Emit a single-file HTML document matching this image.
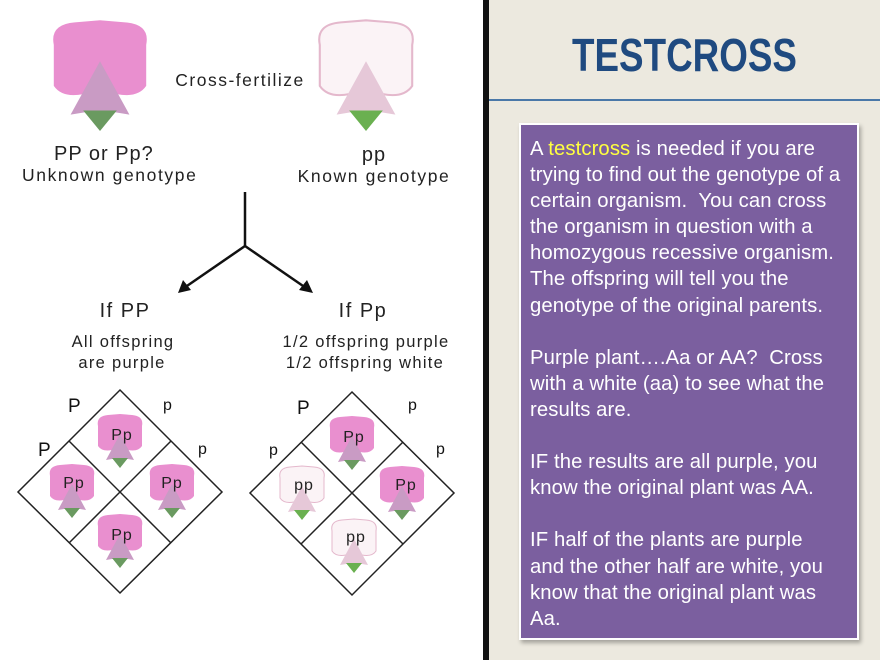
<!DOCTYPE html>
<html><head><style>
html,body{margin:0;padding:0}
body{width:880px;height:660px;position:relative;overflow:hidden;background:#fff;font-family:"Liberation Sans",sans-serif}
#right{position:absolute;left:489px;top:0;width:391px;height:660px;background:#ece9df}
#div{position:absolute;left:483px;top:0;width:6px;height:660px;background:#111}
#title{position:absolute;left:489px;width:391px;top:28px;text-align:center;font:bold 46px "Liberation Sans Narrow","Liberation Sans",sans-serif;color:#1f4a80;transform:scaleX(0.8)}
#line{position:absolute;left:489px;top:99px;width:391px;height:2px;background:#4a78a8}
#box{position:absolute;left:519px;top:123px;width:340px;height:517px;background:#7b5f9f;border:2px solid #fff;box-shadow:2px 3px 4px rgba(0,0,0,.3);color:#fff;font-size:20.3px;line-height:26.1px;padding:11px 0 0 9px;box-sizing:border-box;white-space:nowrap;letter-spacing:0.1px}
.y{color:#ffff40}
</style></head><body>
<svg width="483" height="660" style="position:absolute;left:0;top:0" font-family="Liberation Sans, sans-serif">
<defs>
<g id="pf">
<path d="M-22,-22 Q-24,-32 -12,-33 L0,-34 L12,-33 Q24,-32 22,-22 L22,-2 Q18,4 8,2 L-8,2 Q-18,4 -22,-2Z" fill="#e98fcf"/>
<path d="M0,-14 L-14,12 L-2,10 L0,18 L2,10 L14,12Z" fill="#c99bc4"/>
<path d="M-8,10 L0,20 L8,10" fill="#6a9a60"/>
</g>
<g id="wf">
<path d="M-22,-22 Q-24,-32 -12,-33 L0,-34 L12,-33 Q24,-32 22,-22 L22,-2 Q18,4 8,2 L-8,2 Q-18,4 -22,-2Z" fill="#fbf3f6" stroke="#e4b8cc" stroke-width="1"/>
<path d="M0,-14 L-14,12 L-2,10 L0,18 L2,10 L14,12Z" fill="#e6c8d8"/>
<path d="M-8,10 L0,20 L8,10" fill="#6ab050"/>
</g>
</defs>
<g transform="translate(100,90) scale(2.1,2.05)"><use href="#pf"/></g>
<g transform="translate(366,90) scale(2.1,2.05)"><use href="#wf"/></g>
<text x="240" y="86" font-size="17.5" text-anchor="middle" letter-spacing="1.5" fill="#222">Cross-fertilize</text>
<text x="54" y="160" font-size="20" fill="#222" letter-spacing="1">PP or Pp?</text>
<text x="22" y="181" font-size="17.5" fill="#222" letter-spacing="1.6">Unknown genotype</text>
<text x="374" y="161" font-size="20" fill="#222" text-anchor="middle" letter-spacing="1">pp</text>
<text x="374" y="182" font-size="17.5" fill="#222" text-anchor="middle" letter-spacing="1.6">Known genotype</text>
<g stroke="#111" stroke-width="2.5" fill="none">
<line x1="245" y1="192" x2="245" y2="246"/>
<line x1="245" y1="246" x2="184" y2="288"/>
<line x1="245" y1="246" x2="306" y2="288"/>
</g>
<path d="M178,293 L183,280 L191,290Z" fill="#111"/>
<path d="M313,293 L299,290 L307,280Z" fill="#111"/>
<text x="125" y="317" font-size="20" text-anchor="middle" fill="#222" letter-spacing="1.5">If PP</text>
<text x="123" y="347" font-size="16.5" text-anchor="middle" fill="#222" letter-spacing="1.3">All offspring</text>
<text x="122" y="368" font-size="16.5" text-anchor="middle" fill="#222" letter-spacing="1.3">are purple</text>
<text x="363" y="317" font-size="20" text-anchor="middle" fill="#222" letter-spacing="1.5">If Pp</text>
<text x="366" y="347" font-size="16.5" text-anchor="middle" fill="#222" letter-spacing="1.3">1/2 offspring purple</text>
<text x="365" y="368" font-size="16.5" text-anchor="middle" fill="#222" letter-spacing="1.3">1/2 offspring white</text>
<g stroke="#222" stroke-width="1.5" fill="none">
<path d="M120,390 L222,492 L120,593 L18,492Z"/>
<line x1="69" y1="441" x2="171" y2="543"/>
<line x1="171" y1="441" x2="69" y2="543"/>
<path d="M352,392 L454,493 L352,595 L250,493Z"/>
<line x1="301" y1="442" x2="403" y2="544"/>
<line x1="403" y1="442" x2="301" y2="544"/>
</g>
<g font-size="19" fill="#111">
<text x="68" y="412">P</text><text x="163" y="410" font-size="16">p</text>
<text x="38" y="456">P</text><text x="198" y="454" font-size="16">p</text>
<text x="297" y="414">P</text><text x="408" y="410" font-size="16">p</text>
<text x="269" y="455" font-size="16">p</text><text x="436" y="454" font-size="16">p</text>
</g>
<g transform="translate(120,448)"><use href="#pf"/></g>
<g transform="translate(72,498)"><use href="#pf"/></g>
<g transform="translate(172,498)"><use href="#pf"/></g>
<g transform="translate(120,548)"><use href="#pf"/></g>
<g transform="translate(352,450)"><use href="#pf"/></g>
<g transform="translate(302,500)"><use href="#wf"/></g>
<g transform="translate(402,500)"><use href="#pf"/></g>
<g transform="translate(354,553)"><use href="#wf"/></g>
<g font-size="16" fill="#222" text-anchor="middle" letter-spacing="1">
<text x="122" y="440">Pp</text><text x="74" y="488">Pp</text><text x="172" y="488">Pp</text><text x="122" y="540">Pp</text>
<text x="354" y="442">Pp</text><text x="304" y="490">pp</text><text x="406" y="490">Pp</text><text x="356" y="542">pp</text>
</g>
</svg>
<div id="div"></div>
<div id="right"></div>
<div id="title">TESTCROSS</div>
<div id="line"></div>
<div id="box">
A <span class="y">testcross</span> is needed if you are<br>
trying to find out the genotype of a<br>
certain organism.&nbsp; You can cross<br>
the organism in question with a<br>
homozygous recessive organism.<br>
The offspring will tell you the<br>
genotype of the original parents.<br>
<br>
Purple plant….Aa or AA?&nbsp; Cross<br>
with a white (aa) to see what the<br>
results are.<br>
<br>
IF the results are all purple, you<br>
know the original plant was AA.<br>
<br>
IF half of the plants are purple<br>
and the other half are white, you<br>
know that the original plant was<br>
Aa.
</div>
</body></html>
